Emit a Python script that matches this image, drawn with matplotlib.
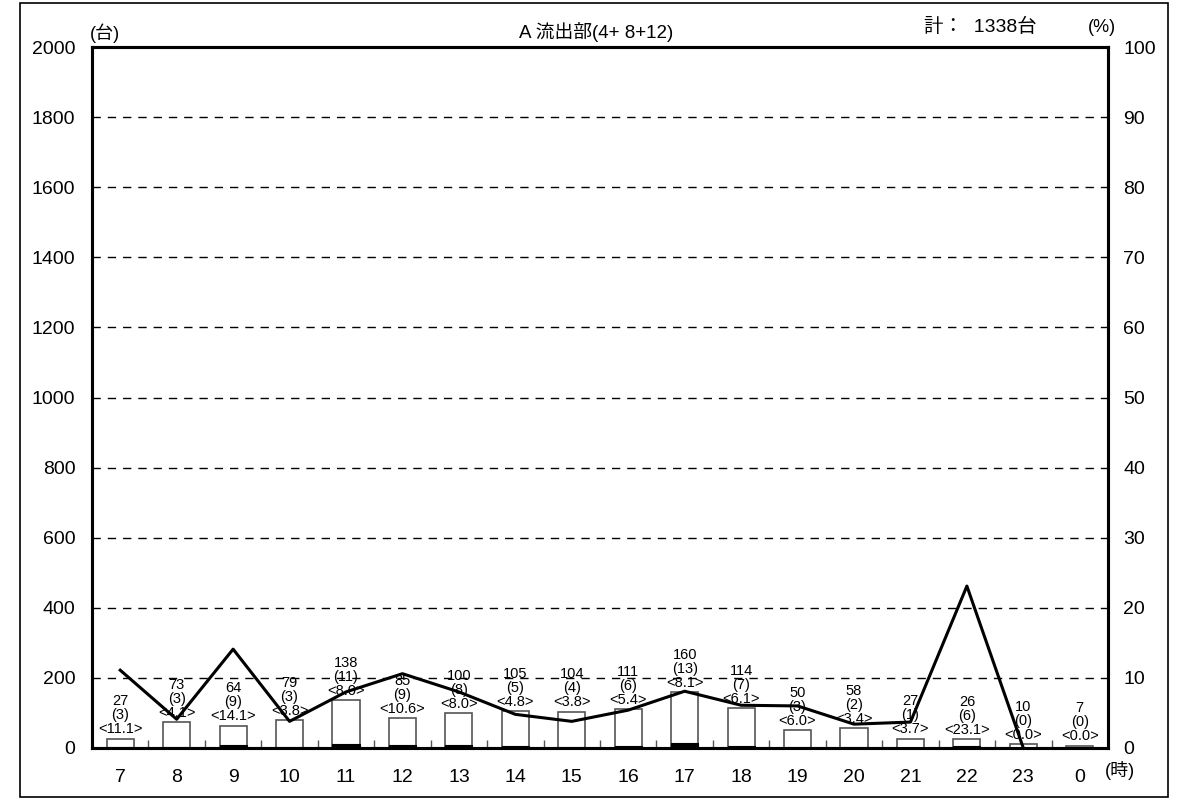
import matplotlib
matplotlib.use("Agg")
import matplotlib.pyplot as plt
from matplotlib.patches import Rectangle
import numpy as np

plt.rcParams['font.family'] = ['Liberation Sans', 'Noto Sans CJK JP', 'DejaVu Sans']
plt.rcParams['hatch.color'] = 'white'

# data
hours = ['7', '8', '9', '10', '11', '12', '13', '14', '15', '16', '17', '18',
         '19', '20', '21', '22', '23', '0']
totals = [27, 73, 64, 79, 138, 85, 100, 105, 104, 111, 160, 114, 50, 58, 27, 26, 10, 7]
large = [3, 3, 9, 3, 11, 9, 8, 5, 4, 6, 13, 7, 3, 2, 1, 6, 0, 0]
ratio = [11.1, 4.1, 14.1, 3.8, 8.0, 10.6, 8.0, 4.8, 3.8, 5.4, 8.1, 6.1, 6.0, 3.4,
         3.7, 23.1, 0.0, 0.0]
total_all = 1338

fig = plt.figure(figsize=(11.84, 8), dpi=100)
fig.patches.append(Rectangle((20 / 1184, 3 / 800), 1148 / 1184, 794 / 800,
                             transform=fig.transFigure, fill=False,
                             edgecolor='black', linewidth=1.2))
ax = fig.add_axes([92 / 1184, 52 / 800, 1016 / 1184, 701 / 800])
ax2 = ax.twinx()

x = np.arange(len(hours))
ax.bar(x, totals, width=0.48, color='white', edgecolor='#555555', linewidth=1.2, zorder=3)
ax.bar(x, large, width=0.48, color='black', edgecolor='black', linewidth=0.8,
       hatch='....', zorder=4)

for i in range(len(hours)):
    ax.text(x[i], totals[i] + 6, f"{totals[i]}\n({large[i]})\n<{ratio[i]:.1f}>",
            ha='center', va='bottom', fontsize=10.5, linespacing=1.0, zorder=5)

# line stops at hour 23
ax2.plot(x[:17], ratio[:17], color='black', linewidth=2.2, zorder=6)

ax.set_xlim(-0.5, len(hours) - 0.5)
ax.set_ylim(0, 2000)
ax2.set_ylim(0, 100)
ax.set_yticks(np.arange(0, 2001, 200))
ax2.set_yticks(np.arange(0, 101, 10))
ax.set_xticks(x)
ax.set_xticklabels(hours)
ax.set_xticks(np.arange(0.5, len(hours) - 1, 1), minor=True)

for y in range(200, 2000, 200):
    ax.axhline(y, color='black', linewidth=1, linestyle=(0, (6, 5)), zorder=1)

ax.tick_params(axis='x', which='major', length=0, pad=15, labelsize=14)
ax.tick_params(axis='x', which='minor', direction='in', length=6, width=1, color='#555555')
ax.tick_params(axis='y', length=0, pad=12, labelsize=14)
ax2.tick_params(axis='y', length=0, pad=11, labelsize=14)

for a in (ax, ax2):
    for s in a.spines.values():
        s.set_linewidth(2.2)
ax2.patch.set_visible(False)

fig.text(596 / 1184, 1 - 32 / 800, "A 流出部(4+ 8+12)", ha='center', va='center', fontsize=13.5)
fig.text(980 / 1184, 1 - 27 / 800, f"計：  {total_all}台", ha='center', va='center', fontsize=14)
fig.text(105 / 1184, 1 - 33 / 800, "(台)", ha='center', va='center', fontsize=13)
fig.text(1102 / 1184, 1 - 28 / 800, "(%)", ha='center', va='center', fontsize=13)
fig.text(1120 / 1184, 1 - 770 / 800, "(時)", ha='center', va='center', fontsize=13)

fig.savefig("out.png", dpi=100)
